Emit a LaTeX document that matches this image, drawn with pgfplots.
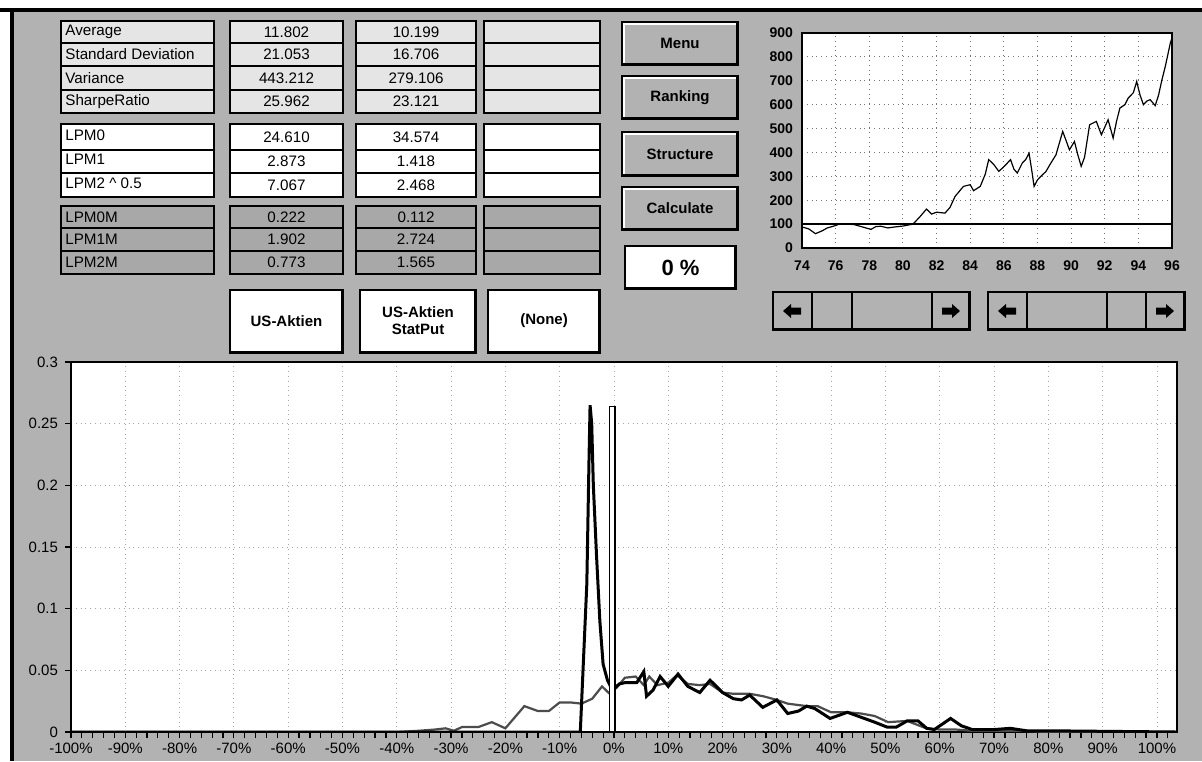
\documentclass[border=0pt]{standalone}
\usepackage{pgfplots}
\pgfplotsset{compat=1.18}
\usepackage{fontspec}
\setmainfont{Liberation Sans}
\definecolor{bg}{gray}{0.70}
\definecolor{lt}{gray}{0.90}
\definecolor{dk}{gray}{0.66}
\newcommand\tfont{\fontsize{7.6}{8}\selectfont}
\newcommand\bfont{\fontsize{7.5}{8.5}\selectfont\bfseries}
\newcommand\btn[5]{%
  \fill[bg] (#1,#2) rectangle (#3,#4);
  \draw[white,line width=0.8pt] (#1+2,#4-2) -- (#1+2,#2+2) -- (#3-2,#2+2);
  \draw[black,line width=0.6pt] (#1,#2) rectangle (#3,#4);
  \draw[black,line width=1.4pt] (#1+1,#4-1) -- (#3-1,#4-1) -- (#3-1,#2+1);
  \node[font=\bfont,align=center] at ({(#1+#3)/2},{(#2+#4)/2}) {#5};}
\newcommand\larrow[2]{\fill[black] (#1-9,#2) -- (#1-1,#2-7) -- (#1-1,#2-3.5) -- (#1+9,#2-3.5) -- (#1+9,#2+3.5) -- (#1-1,#2+3.5) -- (#1-1,#2+7) -- cycle;}
\newcommand\rarrow[2]{\fill[black] (#1+9,#2) -- (#1+1,#2-7) -- (#1+1,#2-3.5) -- (#1-9,#2-3.5) -- (#1-9,#2+3.5) -- (#1+1,#2+3.5) -- (#1+1,#2+7) -- cycle;}
\begin{document}
\begin{tikzpicture}
\begin{scope}[x=0.5pt,y=-0.5pt]
\useasboundingbox (0,0) rectangle (1202,761);
\fill[white] (0,0) rectangle (1202,761);
\fill[bg] (12,10) rectangle (1202,761);
\draw[line width=1.6pt] (0,10) -- (1202,10);
\draw[line width=2pt] (12,10) -- (12,761);
% group 1
\foreach \ya/\yb/\lab/\va/\vb in {21/43/Average/11.802/10.199, 43/66/Standard Deviation/21.053/16.706, 66/90/Variance/443.212/279.106, 90/113/SharpeRatio/25.962/23.121}{
  \draw[fill=lt,line width=0.6pt] (61,\ya) rectangle (214,\yb);
  \draw[fill=lt,line width=0.6pt] (230,\ya) rectangle (343,\yb);
  \draw[fill=lt,line width=0.6pt] (356,\ya) rectangle (476,\yb);
  \draw[fill=lt,line width=0.6pt] (484,\ya) rectangle (600,\yb);
  \node[anchor=west,font=\tfont,inner sep=0pt] at (65,{(\ya+\yb)/2}) {\lab};
  \node[font=\tfont,inner sep=0pt] at (286.5,{(\ya+\yb)/2}) {\va};
  \node[font=\tfont,inner sep=0pt] at (416,{(\ya+\yb)/2}) {\vb};
}
% group 2
\foreach \ya/\yb/\lab/\va/\vb in {124/150/LPM0/24.610/34.574, 150/173/LPM1/2.873/1.418, 173/197/{LPM2 \textasciicircum{} 0.5}/7.067/2.468}{
  \draw[fill=white,line width=0.6pt] (61,\ya) rectangle (214,\yb);
  \draw[fill=white,line width=0.6pt] (230,\ya) rectangle (343,\yb);
  \draw[fill=white,line width=0.6pt] (356,\ya) rectangle (476,\yb);
  \draw[fill=white,line width=0.6pt] (484,\ya) rectangle (600,\yb);
  \node[anchor=west,font=\tfont,inner sep=0pt] at (65,{(\ya+\yb)/2-2}) {\lab};
  \node[font=\tfont,inner sep=0pt] at (286.5,{(\ya+\yb)/2}) {\va};
  \node[font=\tfont,inner sep=0pt] at (416,{(\ya+\yb)/2}) {\vb};
}
% group 3
\foreach \ya/\yb/\lab/\va/\vb in {206/228/LPM0M/0.222/0.112, 228/251/LPM1M/1.902/2.724, 251/274/LPM2M/0.773/1.565}{
  \draw[fill=dk,line width=0.6pt] (61,\ya) rectangle (214,\yb);
  \draw[fill=dk,line width=0.6pt] (230,\ya) rectangle (343,\yb);
  \draw[fill=dk,line width=0.6pt] (356,\ya) rectangle (476,\yb);
  \draw[fill=dk,line width=0.6pt] (484,\ya) rectangle (600,\yb);
  \node[anchor=west,font=\tfont,inner sep=0pt] at (65,{(\ya+\yb)/2}) {\lab};
  \node[font=\tfont,inner sep=0pt] at (286.5,{(\ya+\yb)/2}) {\va};
  \node[font=\tfont,inner sep=0pt] at (416,{(\ya+\yb)/2}) {\vb};
}
% series buttons
\foreach \xa/\xb/\t in {230/343/{US-Aktien}, 360/476/{US-Aktien\\StatPut}, 488/600/{(None)}}{
  \fill[white] (\xa,290) rectangle (\xb,353);
  \draw[black,line width=0.6pt] (\xa,290) rectangle (\xb,353);
  \draw[black,line width=1.4pt] (\xa+1,352) -- (\xb-1,352) -- (\xb-1,291);
  \node[font=\bfont,align=center] at ({(\xa+\xb)/2},321) {\t};
}
% right buttons
\btn{622}{22}{738}{65}{Menu}
\btn{622}{76}{738}{119}{Ranking}
\btn{622}{132}{738}{176}{Structure}
\btn{622}{187}{738}{230}{Calculate}
\fill[white] (625,246) rectangle (736,289);
\draw[black,line width=0.6pt] (625,246) rectangle (736,289);
\draw[black,line width=1.4pt] (626,288) -- (735,288) -- (735,247);
\node[font=\fontsize{11}{12}\selectfont\bfseries] at (680.5,267.5) {0 \%};
% scrollbars
\foreach \a/\b in {773/812, 812/852, 852/932, 932/970, 988/1027, 1027/1107, 1107/1146, 1146/1185}{
  \fill[bg] (\a,292) rectangle (\b,330);
  \draw[black,line width=0.7pt] (\a,292) rectangle (\b,330);
}
\draw[black,line width=1.4pt] (774,329) -- (969,329) -- (969,293);
\draw[black,line width=1.4pt] (989,329) -- (1184,329) -- (1184,293);
\larrow{792}{311}
\rarrow{951}{311}
\larrow{1007}{311}
\rarrow{1165}{311}
\end{scope}

% small index chart
\begin{axis}[
  at={(401pt,-124pt)}, anchor=south west,
  scale only axis, width=185pt, height=107.5pt,
  xmin=74, xmax=96, ymin=0, ymax=900,
  xtick={74,76,...,96}, ytick={0,100,...,900},
  axis background/.style={fill=white},
  axis line style={black,line width=0.7pt},
  grid=major, major grid style={black!55, dotted, line width=0.5pt},
  tick style={draw=none},
  /pgf/number format/assume math mode=true,
  ticklabel style={font=\fontsize{7}{8}\selectfont\bfseries},
  xticklabel style={yshift=-3pt},
  yticklabel style={xshift=-1pt},
]
\addplot[black, line width=1.2pt] coordinates {(74,100) (96,100)};
\addplot[black, line width=0.6pt] coordinates {
(74,88) (74.4,80) (74.8,60) (75.2,72) (75.5,84) (75.9,92) (76.3,102) (76.7,100) (77.1,98) (77.6,88)
(78.1,78) (78.4,90) (78.7,91) (79.1,84) (79.5,88) (80,92) (80.6,100) (81,130) (81.4,163) (81.7,142)
(82,150) (82.5,146) (82.8,170) (83.1,216) (83.6,258) (84.0,265) (84.2,240) (84.6,258) (84.9,310) (85.1,370)
(85.4,350) (85.7,321) (86.0,340) (86.4,370) (86.6,330) (86.8,314) (87.1,356) (87.3,370) (87.5,397) (87.65,330)
(87.8,258) (88.0,285) (88.2,300) (88.5,320) (88.8,356) (89.1,390) (89.5,488) (89.7,450) (89.9,411) (90.2,446)
(90.4,390) (90.6,342) (90.8,380) (91.1,516) (91.5,530) (91.8,474) (92.2,537) (92.5,460) (92.7,530) (92.9,586)
(93.2,600) (93.4,628) (93.7,650) (93.9,697) (94.1,640) (94.3,600) (94.5,615) (94.7,621) (95.0,596) (95.2,640)
(95.4,704) (95.6,760) (95.9,858) (96,880)};
\end{axis}

% main distribution chart
\begin{axis}[
  at={(35.5pt,-366pt)}, anchor=south west,
  scale only axis, width=553pt, height=185pt,
  xmin=-100, xmax=103.7, ymin=0, ymax=0.3,
  axis background/.style={fill=white},
  axis line style={black,line width=0.7pt},
  xtick={-100,-90,...,100},
  xticklabels={-100\%,-90\%,-80\%,-70\%,-60\%,-50\%,-40\%,-30\%,-20\%,-10\%,0\%,10\%,20\%,30\%,40\%,50\%,60\%,70\%,80\%,90\%,100\%},
  minor xtick={-98,-96,...,102},
  ytick={0,0.05,0.1,0.15,0.2,0.25,0.3},
  yticklabels={0,0.05,0.1,0.15,0.2,0.25,0.3},
  tick align=outside, xtick pos=bottom, ytick pos=left,
  major tick length=3pt, minor tick length=3pt,
  tick style={black,line width=0.6pt},
  ticklabel style={font=\fontsize{7.5}{8}\selectfont},
  xticklabel style={yshift=1pt},
  grid=major, major grid style={black!35, dotted, line width=0.4pt},
]
\addplot[black!70, line width=1.1pt] coordinates {
(-100,0) (-40,0) (-36,0.001) (-33,0.002) (-31,0.003) (-29.5,0.001) (-28,0.004) (-25,0.004) (-22.5,0.008) (-20,0.003)
(-16.5,0.021) (-14,0.017) (-12,0.017) (-10,0.024) (-8,0.024) (-6,0.023) (-4,0.027) (-2.2,0.037) (-0.8,0.031) (0.5,0.036)
(2,0.044) (4,0.045) (5.5,0.038) (6.5,0.045) (8,0.038) (10,0.040) (11.6,0.046) (13.6,0.039) (15.8,0.038) (17.7,0.039)
(20,0.032) (22,0.031) (25,0.031) (27.5,0.029) (30,0.026) (32,0.023) (35.5,0.021) (37.5,0.021) (40,0.016) (43,0.016)
(45.5,0.015) (48,0.013) (50.5,0.008) (54,0.009) (57.5,0.003) (60,0.002) (63,0.002) (66,0.001) (70,0.001) (75,0.001)
(80,0) (103.7,0)};
\addplot[black, line width=1.5pt] coordinates {
(-100,0) (-6.2,0) (-5.8,0.04) (-5.0,0.12) (-4.6,0.22) (-4.4,0.265) (-4.1,0.25) (-3.8,0.20) (-3.2,0.142) (-2.6,0.09)
(-2.0,0.055) (-1.2,0.042) (-0.3,0.034) (1,0.039) (2,0.040) (4.2,0.040) (5.5,0.049) (6.0,0.029) (7.2,0.034) (8.5,0.045)
(10,0.037) (11.8,0.047) (13.6,0.037) (15.8,0.032) (17.7,0.042) (20,0.032) (22,0.027) (23.5,0.026) (25,0.030) (27.4,0.020)
(30,0.026) (32,0.015) (34,0.017) (35.5,0.021) (37,0.019) (39.8,0.011) (43,0.016) (45.5,0.012) (48,0.008) (50.3,0.004)
(52,0.004) (54,0.009) (56,0.009) (57.6,0.003) (59,0.002) (62,0.011) (64,0.005) (66,0.002) (70,0.002) (73,0.003)
(76,0.001) (80,0.001) (103.7,0)};
\addplot[black, fill=white, line width=0.6pt] coordinates {(-0.8,0) (-0.8,0.264) (0.2,0.264) (0.2,0)} -- cycle;
\end{axis}
\end{tikzpicture}
\end{document}
